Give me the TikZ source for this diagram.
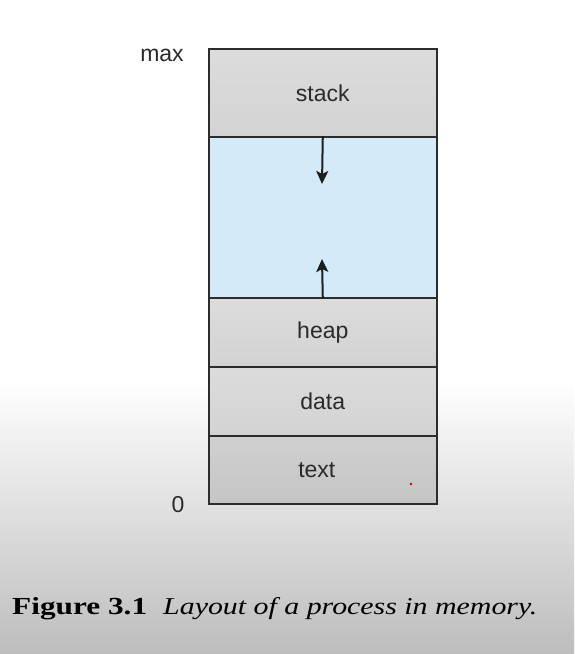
\documentclass[tikz,border=0pt]{standalone}
\usepackage{fontspec}
\setmainfont{Liberation Serif}
\setsansfont{Liberation Sans}
\usetikzlibrary{arrows.meta}
\definecolor{bgbottom}{HTML}{BDBDBD}
\definecolor{segline}{HTML}{2C2C2C}
\definecolor{segtop}{HTML}{DCDCDC}
\definecolor{segbot}{HTML}{D3D3D3}
\definecolor{texttop}{HTML}{D0D0D0}
\definecolor{textbot}{HTML}{C5C5C5}
\definecolor{freeblue}{HTML}{D4EAF8}
\definecolor{labeltext}{HTML}{2A2A2A}
\definecolor{arrowcol}{HTML}{1E1E1E}
\begin{document}
\begin{tikzpicture}[x=1pt,y=-1pt,
  seg/.style={draw=segline, line width=1.6pt, minimum width=228pt, inner sep=0pt,
    anchor=north west, top color=segtop, bottom color=segbot,
    font=\sffamily\fontsize{23}{27}\selectfont, text=labeltext},
  sidelabel/.style={font=\sffamily\fontsize{23}{27}\selectfont, text=labeltext, inner sep=0pt},
  growarrow/.style={draw=arrowcol, line width=2pt, -{Stealth[length=13pt,width=12pt,inset=3pt]}},
  captext/.style={anchor=base west, inner sep=0pt, text=black}
]
\useasboundingbox (0,0) rectangle (574,654);
\fill[white] (0,0) rectangle (574,654);
\shade[top color=white, bottom color=bgbottom] (0,380) rectangle (574,654);

\node[seg, minimum height=88pt] (stack) at (208,48) {};
\node[seg, minimum height=161pt, top color=freeblue, bottom color=freeblue] (free) at (208,136) {};
\node[seg, minimum height=69pt] (heap) at (208,297) {};
\node[seg, minimum height=69pt] (data) at (208,366) {};
\node[seg, minimum height=68pt, top color=texttop, bottom color=textbot] (textseg) at (208,435) {};

\node[sidelabel] (stacklbl) at (stack.center) {stack};
\node[sidelabel] (heaplbl) at (heap.center) {heap};
\node[sidelabel] (datalbl) at (data.center) {data};
\node[sidelabel] (textlbl) at ([xshift=-6pt]textseg.center) {text};

\coordinate (downtip) at (322,184);
\coordinate (uptip) at (322,259);
\draw[growarrow] (free.north) -- (downtip);
\draw[growarrow] (free.south) -- (uptip);

\node[sidelabel] (maxlbl) at (162,55) {max};
\node[sidelabel] (zerolbl) at (178,505) {0};

\fill[red!80!black] (411,484) circle (1.3pt);

\node[captext] (capnum) at (12,614)
  {\resizebox{135pt}{17pt}{\fontsize{24}{28}\selectfont\textbf{Figure 3.1}}};
\node[captext] (captitle) at (163,614)
  {\resizebox{374pt}{17pt}{\fontsize{24}{28}\selectfont\textit{Layout of a process in memory.}}};
\end{tikzpicture}
\end{document}
